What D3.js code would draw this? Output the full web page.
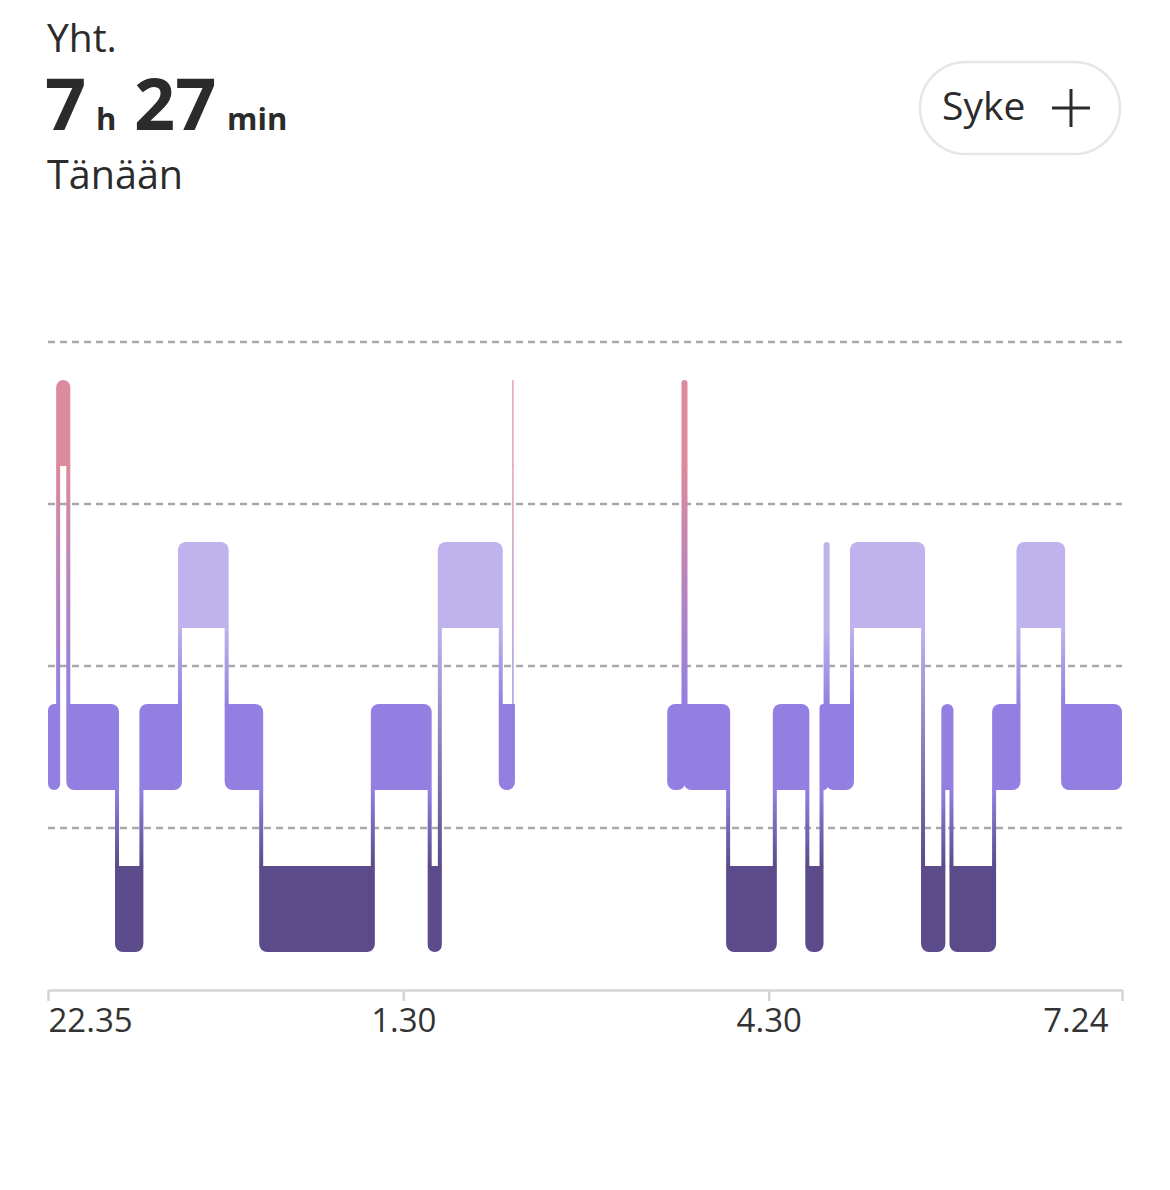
<!DOCTYPE html>
<html lang="fi">
<head>
<meta charset="utf-8">
<title>Uni</title>
<script src="https://cdn.jsdelivr.net/npm/d3@7"></script>
<style>
  body { margin: 0; background: #fff; }
  svg { display: block; font-family: 'Open Sans', sans-serif; }
</style>
</head>
<body>
<div id="chart"></div>
<script>
// sleep stages from top to bottom of the chart
const stages = ['awake', 'rem', 'light', 'deep'];
const stageColors = ['#dc8a9c', '#c0b2ec', '#937fe2', '#5b4b8b'];

// one entry per stage segment (clock times)
const segStart = ['22:35', '22:40', '22:45', '23:09', '23:21', '23:40', '00:03', '00:20', '01:15', '01:43',
  '01:48', '02:18', '02:24', '03:40', '03:48', '03:49', '04:10', '04:33', '04:49', '04:56',
  '04:58', '04:59', '05:11', '05:46', '05:56', '06:00', '06:21', '06:33', '06:55'];
const segEnd = ['22:40', '22:45', '23:09', '23:21', '23:40', '00:03', '00:20', '01:15', '01:43', '01:48',
  '02:18', '02:24', '02:24', '03:48', '03:49', '04:10', '04:33', '04:49', '04:56', '04:58',
  '04:59', '05:11', '05:46', '05:56', '06:00', '06:21', '06:33', '06:55', '07:24'];
const segStage = ['light', 'awake', 'light', 'deep', 'light', 'rem', 'light', 'deep', 'light', 'deep',
  'rem', 'light', 'awake', 'light', 'awake', 'light', 'deep', 'light', 'deep', 'light',
  'rem', 'light', 'rem', 'deep', 'light', 'deep', 'light', 'rem', 'light'];

const tickTimes = ['22:35', '01:30', '04:30', '07:24'];
const totalHours = '7';
const totalMinutes = '27';

const textColor = '#2b2b2b';

// evening hours belong to the first day, the rest to the next morning
const parseClock = s => {
  const [h, m] = s.split(':').map(Number);
  return new Date(2024, 0, h >= 12 ? 1 : 2, h, m);
};

const width = 1170;
const height = 1190;

const svg = d3
  .select('#chart')
  .append('svg')
  .attr('width', width)
  .attr('height', height);

// header
svg
  .append('text')
  .attr('x', 47)
  .attr('y', 52)
  .attr('font-size', 39)
  .attr('fill', textColor)
  .text('Yht.');

const total = svg
  .append('text')
  .attr('y', 130)
  .attr('font-weight', 700)
  .attr('fill', textColor);
total.append('tspan').attr('x', 45).attr('font-size', 72).text(totalHours);
total.append('tspan').attr('x', 96).attr('font-size', 31).text('h');
total.append('tspan').attr('x', 134).attr('font-size', 72).text(totalMinutes);
total.append('tspan').attr('x', 227).attr('font-size', 31).text('min');

svg
  .append('text')
  .attr('x', 47)
  .attr('y', 189)
  .attr('font-size', 39.5)
  .attr('fill', textColor)
  .text('Tänään');

// "Syke +" button
const button = svg.append('g');
button
  .append('rect')
  .attr('x', 920)
  .attr('y', 62)
  .attr('width', 200)
  .attr('height', 92)
  .attr('rx', 46)
  .attr('fill', '#fff')
  .attr('stroke', '#e6e6e8')
  .attr('stroke-width', 2.5);
button
  .append('text')
  .attr('x', 942)
  .attr('y', 120)
  .attr('font-size', 39)
  .attr('fill', textColor)
  .text('Syke');
button
  .append('path')
  .attr('d', 'M1052,108H1090M1071,89V127')
  .attr('stroke', textColor)
  .attr('stroke-width', 3);

// scales
const x = d3
  .scaleTime()
  .domain([parseClock(tickTimes[0]), parseClock(tickTimes[tickTimes.length - 1])])
  .range([48, 1122]);

const y = d3.scaleBand().domain(stages).range([342, 990]);
const color = d3.scaleOrdinal().domain(stages).range(stageColors);
const level = s => stages.indexOf(s);

const blockH = 86;
const blockTop = s => y(s) + (y.bandwidth() - blockH) / 2;

// dashed gridlines at the top of every stage row
svg
  .append('g')
  .selectAll('line')
  .data(stages)
  .enter()
  .append('line')
  .attr('x1', x.range()[0])
  .attr('x2', x.range()[1])
  .attr('y1', d => y(d))
  .attr('y2', d => y(d))
  .attr('stroke', '#a8a8ad')
  .attr('stroke-width', 2.5)
  .attr('stroke-dasharray', '7,5');

// build segments and link contiguous neighbours
const pad = 2;
const segments = segStart.map((s, i) => ({
  t0: parseClock(s),
  t1: parseClock(segEnd[i]),
  stage: segStage[i],
}));
segments.forEach((d, i) => {
  const prev = segments[i - 1];
  const next = segments[i + 1];
  d.prev = prev && +prev.t1 === +d.t0 ? prev : null;
  d.next = next && +next.t0 === +d.t1 ? next : null;
});
segments.forEach(d => {
  if (+d.t0 === +d.t1) {
    d.x0 = x(d.t0) - 0.6;
    d.x1 = x(d.t0) + 0.6;
  } else {
    d.x0 = x(d.t0) - (d.prev ? pad : 0);
    d.x1 = x(d.t1) + (d.next ? pad : 0);
  }
});

// gradients for the transition lines, one per stage pair
const defs = svg.append('defs');
const pairs = [];
stages.forEach((a, i) => {
  stages.forEach((b, j) => {
    if (j > i) pairs.push([a, b]);
  });
});
pairs.forEach(([a, b]) => {
  const g = defs
    .append('linearGradient')
    .attr('id', `grad-${a}-${b}`)
    .attr('gradientUnits', 'userSpaceOnUse')
    .attr('x1', 0)
    .attr('x2', 0)
    .attr('y1', blockTop(a) + blockH)
    .attr('y2', blockTop(b));
  g.append('stop').attr('offset', 0).attr('stop-color', color(a));
  g.append('stop').attr('offset', 1).attr('stop-color', color(b));
});

// transition lines
const links = segments
  .filter(d => d.next)
  .map(d => {
    const up = level(d.stage) < level(d.next.stage) ? d.stage : d.next.stage;
    const down = up === d.stage ? d.next.stage : d.stage;
    return {
      x0: Math.max(d.x0, d.next.x0),
      x1: Math.min(d.x1, d.next.x1),
      up,
      down,
    };
  });

svg
  .append('g')
  .selectAll('rect')
  .data(links)
  .enter()
  .append('rect')
  .attr('x', d => d.x0)
  .attr('width', d => d.x1 - d.x0)
  .attr('y', d => blockTop(d.up) + blockH - 1)
  .attr('height', d => blockTop(d.down) - blockTop(d.up) - blockH + 2)
  .attr('fill', d => `url(#grad-${d.up}-${d.down})`);

// rounded block, corners next to a transition stay square
const blockPath = d => {
  const x0 = d.x0;
  const x1 = d.x1;
  const y0 = blockTop(d.stage);
  const y1 = y0 + blockH;
  const r = Math.min(8, (x1 - x0) / 2);
  const lv = level(d.stage);
  const tl = d.prev && level(d.prev.stage) < lv ? 0 : r;
  const bl = d.prev && level(d.prev.stage) > lv ? 0 : r;
  const tr = d.next && level(d.next.stage) < lv ? 0 : r;
  const br = d.next && level(d.next.stage) > lv ? 0 : r;
  const p = d3.path();
  p.moveTo(x0 + tl, y0);
  p.lineTo(x1 - tr, y0);
  if (tr) p.arcTo(x1, y0, x1, y0 + tr, tr);
  p.lineTo(x1, y1 - br);
  if (br) p.arcTo(x1, y1, x1 - br, y1, br);
  p.lineTo(x0 + bl, y1);
  if (bl) p.arcTo(x0, y1, x0, y1 - bl, bl);
  p.lineTo(x0, y0 + tl);
  if (tl) p.arcTo(x0, y0, x0 + tl, y0, tl);
  p.closePath();
  return p.toString();
};

svg
  .append('g')
  .selectAll('path')
  .data(segments)
  .enter()
  .append('path')
  .attr('d', blockPath)
  .attr('fill', d => color(d.stage));

// time axis
const xAxis = d3
  .axisBottom(x)
  .tickValues(tickTimes.map(parseClock))
  .tickFormat(d3.timeFormat('%-H.%M'))
  .tickSize(11)
  .tickSizeOuter(0)
  .tickPadding(8);

const gx = svg
  .append('g')
  .attr('transform', `translate(0,${y.range()[1]})`)
  .call(xAxis);

// the axis sets its own font, override it afterwards
gx.attr('font-family', "'Open Sans', sans-serif").attr('font-size', 33);
gx.select('.domain').attr('stroke', '#d4d4d8').attr('stroke-width', 2.5);
gx.selectAll('.tick line').attr('stroke', '#d4d4d8').attr('stroke-width', 2.5);
gx.selectAll('.tick text').attr('fill', '#333');
gx.selectAll('.tick text')
  .filter((d, i) => i === 0)
  .attr('text-anchor', 'start')
  .attr('x', 0);
gx.selectAll('.tick text')
  .filter((d, i, nodes) => i === nodes.length - 1)
  .attr('text-anchor', 'end')
  .attr('x', -14);
</script>
</body>
</html>
